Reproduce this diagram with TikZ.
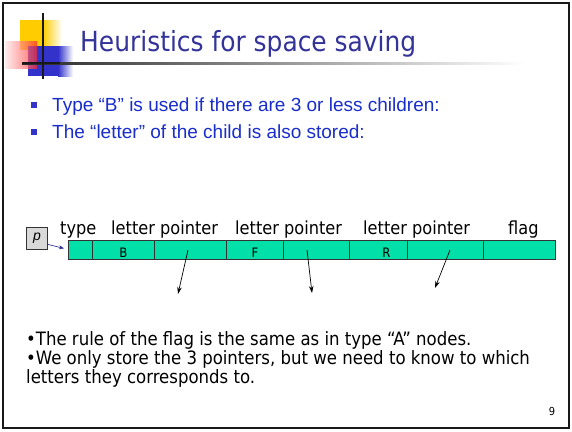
\documentclass[tikz,border=0pt]{standalone}
\usepackage{fontspec}
\setmainfont{Liberation Sans}
\newfontfamily\tah{DejaVu Sans Condensed}
\usetikzlibrary{arrows.meta}
\definecolor{titleblue}{RGB}{51,51,153}
\definecolor{textblue}{RGB}{25,45,205}
\definecolor{bulletblue}{RGB}{51,51,204}
\definecolor{cellgreen}{RGB}{0,224,168}
\definecolor{logoyellow}{RGB}{255,204,0}
\definecolor{logored}{RGB}{255,40,40}
\definecolor{logoblue}{RGB}{51,51,204}
\definecolor{pgray}{RGB}{217,217,217}
\begin{document}
\begin{tikzpicture}[x=1pt,y=-1pt,
  cell/.style={draw=black!80, fill=cellgreen, line width=0.8pt, minimum height=19pt,
    inner sep=0pt, anchor=north west, text height=16pt, text depth=0pt,
    font=\tah\fontsize{13}{13}\selectfont},
  lbl/.style={font=\tah\fontsize{18}{18}\selectfont, anchor=base west, inner sep=0pt},
  btext/.style={font=\fontsize{19}{19}\selectfont, text=textblue, anchor=base west, inner sep=0pt},
  bsq/.style={fill=bulletblue, minimum size=6pt, inner sep=0pt},
  bottomtext/.style={font=\tah\fontsize{18.4}{18.4}\selectfont, anchor=base west, inner sep=0pt},
  ptr/.style={-{Stealth[length=7pt,width=4.5pt]}, line width=0.7pt, black},
  parrow/.style={-{Stealth[length=5pt,width=4pt]}, line width=0.7pt, titleblue}]
\useasboundingbox (0,0) rectangle (572,431);
\fill[white] (0,0) rectangle (572,431);
% logo
\fill[logoyellow] (20,20) rectangle (43,50);
\shade[left color=logoyellow, right color=white] (43,20) rectangle (62,50);
\fill[logoblue] (28,46) rectangle (58,76);
\shade[left color=logoblue, right color=white] (58,46) rectangle (73,76);
\shade[left color=logored!12, right color=logored, opacity=0.7] (5,41) rectangle (37,68);
\shade[left color=black!85, middle color=black!55, right color=white] (22,62) rectangle (525,64);
\fill[black!90] (22,62) rectangle (60,64);
\fill[black!90] (42,13) rectangle (44,79);
% title
\node[font=\tah\fontsize{27.7}{27.7}\selectfont, text=titleblue, anchor=base west, inner sep=0pt] (title) at (80,51) {Heuristics for space saving};
% bullets
\node[bsq] (q1) at (34,104.5) {};
\node[btext] (b1) at (52,111) {Type “B” is used if there are 3 or less children:};
\node[bsq] (q2) at (34,132) {};
\node[btext] (b2) at (52,138) {The “letter” of the child is also stored:};
% labels
\node[lbl] (ltype) at (60,234) {type};
\node[lbl] (lp1) at (111,234) {letter pointer};
\node[lbl] (lp2) at (235,234) {letter pointer};
\node[lbl] (lp3) at (363,234) {letter pointer};
\node[lbl] (lflag) at (508,234) {flag};
% p box
\node[draw=black!80, fill=pgray, line width=0.8pt, minimum width=21pt, minimum height=22pt, inner sep=0pt, anchor=north west, font=\itshape\fontsize{14}{14}\selectfont] (p) at (26,227) {p};
% record
\node[cell, minimum width=24pt] (ctype) at (68,240) {};
\node[cell, minimum width=62pt] (cB) at (92,240) {B};
\node[cell, minimum width=72pt] (cP1) at (154,240) {};
\node[cell, minimum width=57pt] (cF) at (226,240) {F};
\node[cell, minimum width=66pt] (cP2) at (283,240) {};
\node[cell, minimum width=58pt] (cR) at (349,240) {\hspace*{16pt}R};
\node[cell, minimum width=76pt] (cP3) at (407,240) {};
\node[cell, minimum width=72pt] (cflag) at (483,240) {};
\draw[parrow] ([yshift=-6pt]p.east) -- ([xshift=-4pt,yshift=1.5pt]ctype.west);
% pointers
\coordinate (s1) at (188,250); \coordinate (e1) at (178,294);
\coordinate (s2) at (307,250); \coordinate (e2) at (312,293);
\coordinate (s3) at (450,250); \coordinate (e3) at (435,288);
\draw[ptr] (s1) -- (e1);
\draw[ptr] (s2) -- (e2);
\draw[ptr] (s3) -- (e3);
% bottom text
\node[bottomtext] (t1) at (26,345) {•The rule of the flag is the same as in type “A” nodes.};
\node[bottomtext] (t2) at (26,364) {•We only store the 3 pointers, but we need to know to which};
\node[bottomtext] (t3) at (26,383) {letters they corresponds to.};
\node[font=\tah\fontsize{11}{11}\selectfont, anchor=base, inner sep=0pt] (pg) at (552,415) {9};
% frame
\draw[line width=2pt, black!90] (3,3) rectangle (569,428);
\end{tikzpicture}
\end{document}
